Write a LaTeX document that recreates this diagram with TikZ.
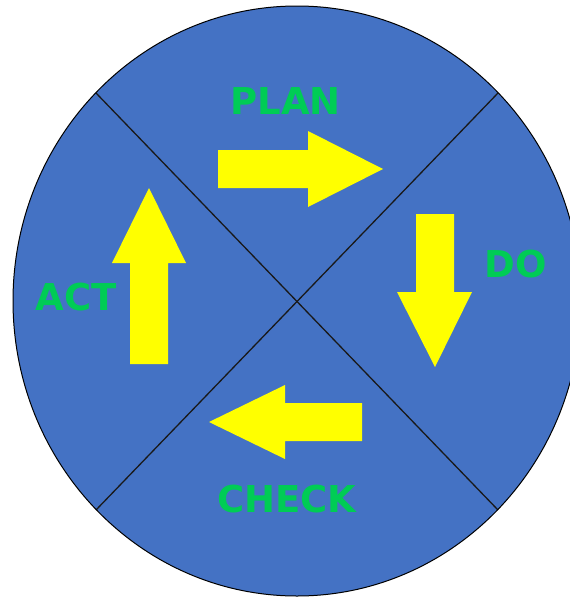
\documentclass[tikz,border=0pt]{standalone}
\usepackage{fontspec}
\setmainfont{DejaVu Sans}
\definecolor{pdcablue}{HTML}{4472C4}
\definecolor{pdcagreen}{RGB}{0,204,85}
\definecolor{pdcayellow}{RGB}{255,255,0}
\begin{document}
\begin{tikzpicture}[x=1pt,y=-1pt,
  lbl/.style={text=pdcagreen,font=\bfseries\fontsize{37}{37}\selectfont,inner sep=0pt,anchor=center},
  yarrow/.style={fill=pdcayellow},
  divider/.style={draw=black!90,line width=1.3pt}]
\useasboundingbox (0,0) rectangle (570,597);
\begin{scope}
\clip (0,0) rectangle (570,597);
\coordinate (c) at (297,301);
\coordinate (ul) at (96,93);
\coordinate (ur) at (498,93);
\coordinate (ll) at (96,510);
\coordinate (lr) at (498,510);
\fill[pdcablue] (c) ellipse [x radius=284pt, y radius=295pt];
\draw[divider] (ul) -- (lr);
\draw[divider] (ur) -- (ll);
\draw[black,line width=1pt] (c) ellipse [x radius=284pt, y radius=295pt];
\end{scope}
% arrows
\fill[yarrow] (218,150) -- (308,150) -- (308,131) -- (383,169) -- (308,207) -- (308,188) -- (218,188) -- cycle;
\fill[yarrow] (416,214) -- (454,214) -- (454,292) -- (472,292) -- (435,367) -- (397,292) -- (416,292) -- cycle;
\fill[yarrow] (362,403) -- (362,441) -- (285,441) -- (285,459) -- (209,422) -- (285,385) -- (285,403) -- cycle;
\fill[yarrow] (130,364) -- (168,364) -- (168,263) -- (186,263) -- (149,188) -- (112,263) -- (130,263) -- cycle;
% labels
\node[lbl] (plan) at (285.5,101) {PLAN};
\node[lbl] (do) at (516,264) {DO};
\node[lbl] (check) at (287,499) {CHECK};
\node[lbl] (act) at (76,297) {ACT};
\end{tikzpicture}
\end{document}
